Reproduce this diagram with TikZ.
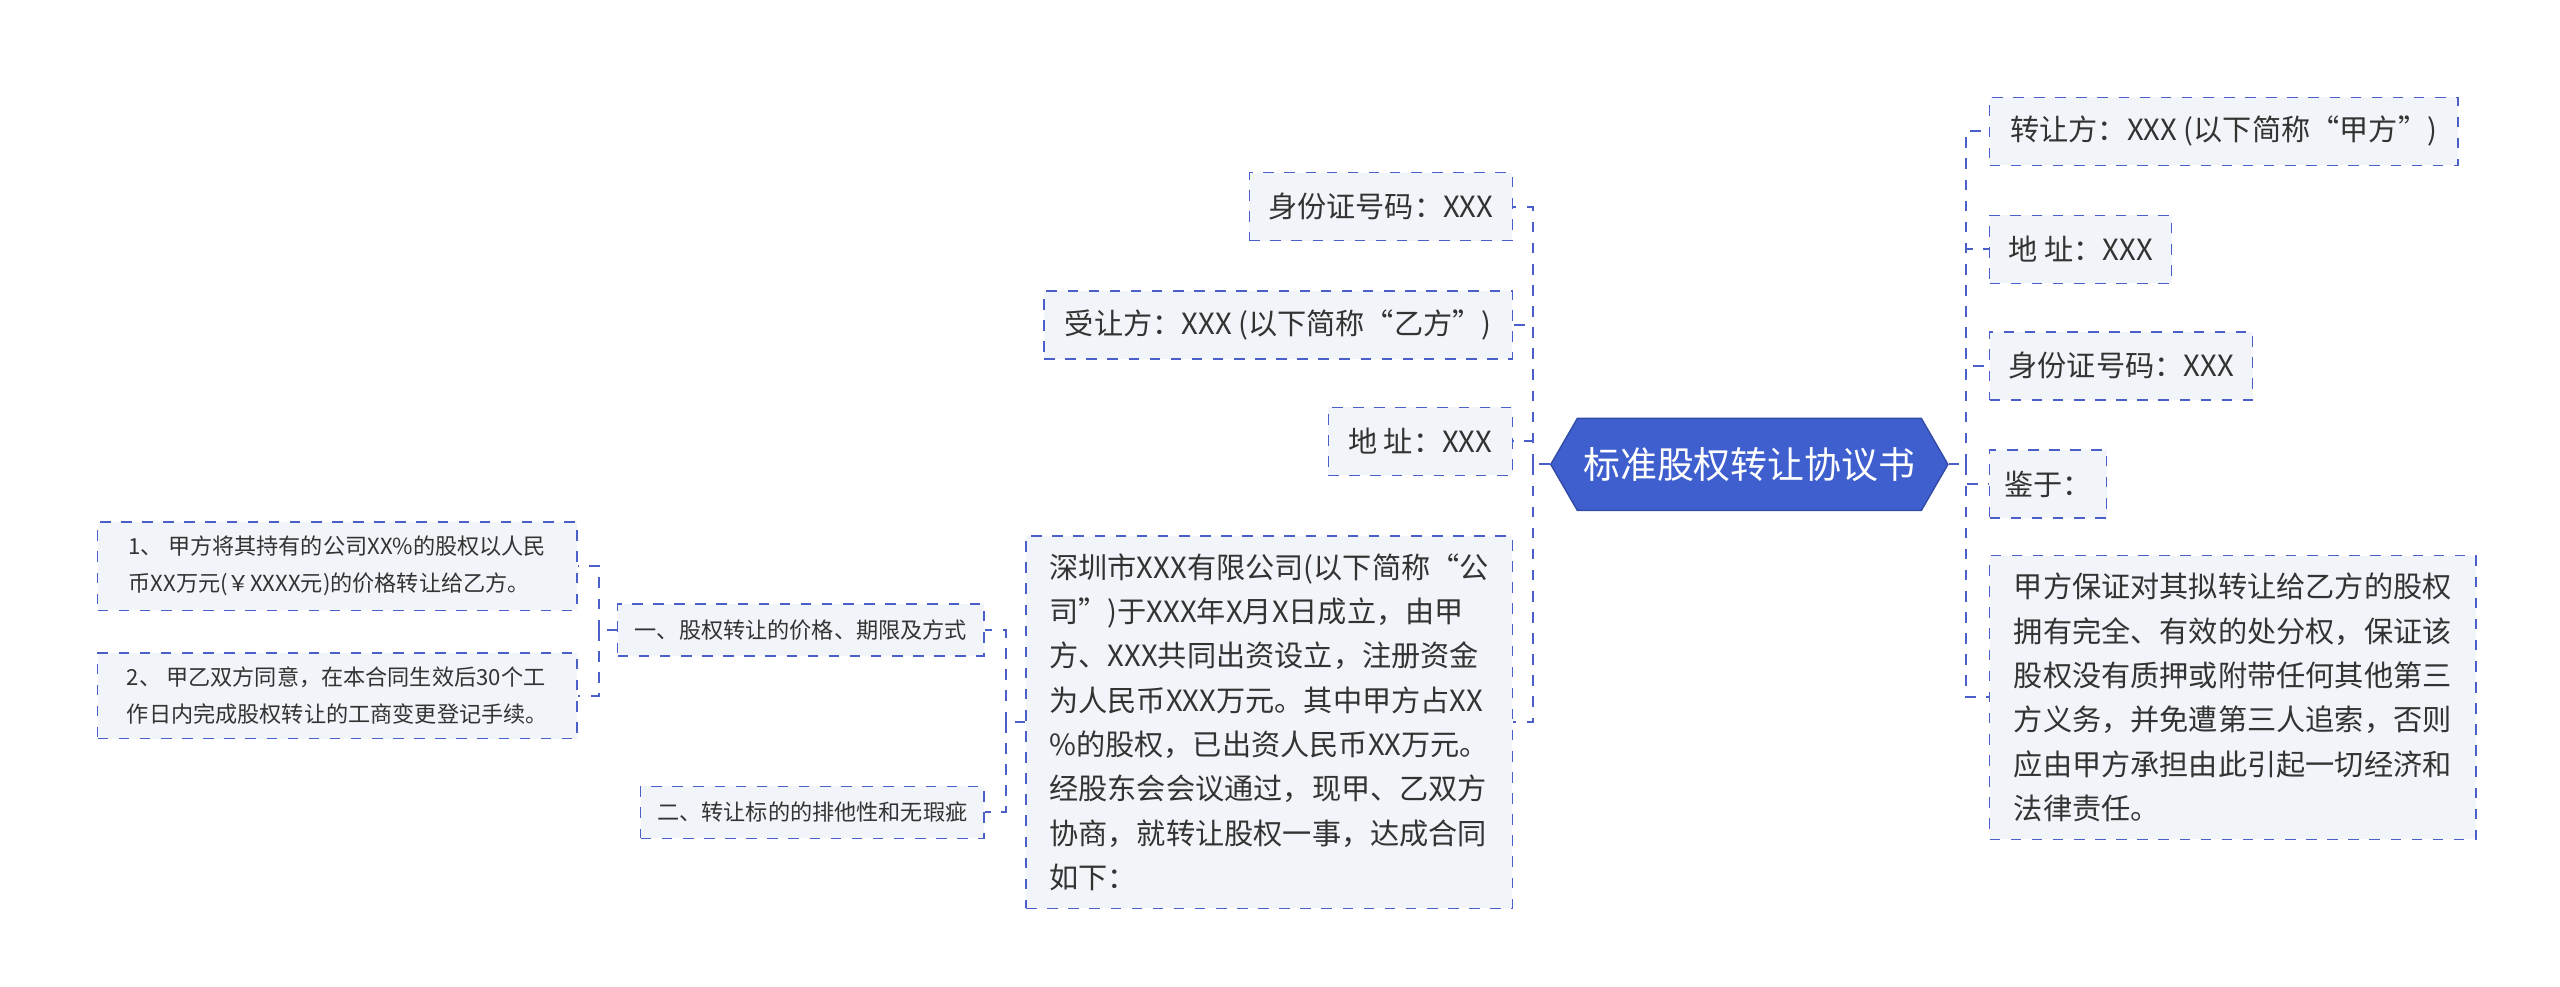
\documentclass[tikz,border=0pt]{standalone}
\usepackage{fontspec}
\setmainfont{Noto Sans CJK SC}
\usetikzlibrary{positioning, shapes.symbols}
\definecolor{linkblue}{HTML}{4A5FC8}
\definecolor{rootblue}{HTML}{3F5FCF}
\definecolor{boxfill}{HTML}{F1F4F8}
\begin{document}
\begin{tikzpicture}[
        x=0.01641cm, y=-0.01641cm,
        % topic boxes
        topic/.style={
            rectangle, draw=linkblue, dashed, fill=boxfill,
            inner sep=0pt, minimum height=0.68cm,
            font=\fontsize{8.3}{12.6}\selectfont, text=black!80
        },
        bigtopic/.style={
            topic, inner sep=5pt, align=left
        },
        leaf/.style={
            topic, minimum height=0.8cm, inner sep=4pt, align=left,
            font=\fontsize{6.3}{10.5}\selectfont
        },
        sub/.style={
            topic, minimum height=0.52cm, font=\fontsize{6.3}{9}\selectfont
        },
        % central node
        root/.style={
            signal, signal to=east and west, signal pointer angle=120,
            fill=rootblue, draw=rootblue!80!black, text=white,
            minimum width=3.97cm, minimum height=0.92cm, inner sep=0pt,
            font=\fontsize{10.5}{12}\selectfont
        },
        link/.style={draw=linkblue, dashed, line width=0.6pt}
    ]
        \useasboundingbox (0,0) rectangle (1560,601);

        % Root
        \node[root] (root) at (1066,283) {标准股权转让协议书};

        % Right side
        \node[topic, anchor=west, minimum width=4.68cm] (jia) at (1212,80) {转让方：XXX (以下简称“甲方”)};
        \node[topic, anchor=west, minimum width=1.82cm] (jaddr) at (1212,152) {地 址：XXX};
        \node[topic, anchor=west, minimum width=2.63cm] (jid) at (1212,223) {身份证号码：XXX};
        \node[topic, anchor=west, minimum width=1.17cm] (jianyu) at (1212,295) {鉴于：};
        \node[bigtopic, anchor=west, minimum width=4.86cm, minimum height=2.64cm] (baozheng) at (1212,425)
            {甲方保证对其拟转让给乙方的股权\\拥有完全、有效的处分权，保证该\\股权没有质押或附带任何其他第三\\方义务，并免遭第三人追索，否则\\应由甲方承担由此引起一切经济和\\法律责任。};

        % Left side
        \node[topic, anchor=east, minimum width=2.63cm] (yid) at (922,126) {身份证号码：XXX};
        \node[topic, anchor=east, minimum width=4.68cm] (yi) at (922,198) {受让方：XXX (以下简称“乙方”)};
        \node[topic, anchor=east, minimum width=1.84cm] (yaddr) at (922,269) {地 址：XXX};
        \node[bigtopic, anchor=east, minimum width=4.86cm, minimum height=3.43cm] (gongsi) at (922,440)
            {深圳市XXX有限公司(以下简称“公\\司”)于XXX年X月X日成立，由甲\\方、XXX共同出资设立，注册资金\\为人民币XXX万元。其中甲方占XX\\\%的股权，已出资人民币XX万元。\\经股东会会议通过，现甲、乙双方\\协商，就转让股权一事，达成合同\\如下：};

        % Sub topics
        \node[sub, anchor=east, minimum width=3.66cm] (jiage) at (600,384) {一、股权转让的价格、期限及方式};
        \node[sub, anchor=east, minimum width=3.43cm] (paita) at (600,495) {二、转让标的的排他性和无瑕疵};
        \node[leaf, anchor=east, minimum width=4.79cm] (leafa) at (352,345)
            {1、 甲方将其持有的公司XX\%的股权以人民\\币XX万元(￥XXXX元)的价格转让给乙方。};
        \node[leaf, anchor=east, minimum width=4.79cm] (leafb) at (352,424)
            {2、 甲乙双方同意，在本合同生效后30个工\\作日内完成股权转让的工商变更登记手续。};

        % Hubs
        \coordinate (rh) at (1198,283);
        \coordinate (lh) at (934,283);
        \coordinate (gh) at (613,440);
        \coordinate (jh) at (365,384);

        % Connections
        \draw[link] (root.east) -- (rh);
        \foreach \n in {jia, jaddr, jid, jianyu, baozheng}
            \draw[link] (rh) |- (\n.west);
        \draw[link] (root.west) -- (lh);
        \foreach \n in {yid, yi, yaddr, gongsi}
            \draw[link] (lh) |- (\n.east);
        \draw[link] (gongsi.west) -- (gh);
        \foreach \n in {jiage, paita}
            \draw[link] (gh) |- (\n.east);
        \draw[link] (jiage.west) -- (jh);
        \foreach \n in {leafa, leafb}
            \draw[link] (jh) |- (\n.east);

    \end{tikzpicture}
\end{document}
